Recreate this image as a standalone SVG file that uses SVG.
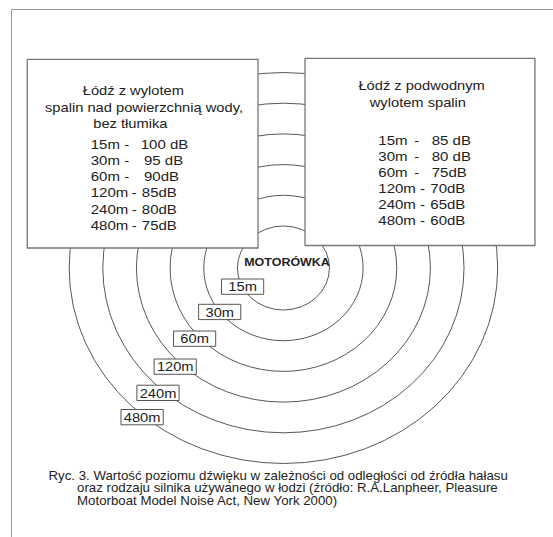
<svg xmlns="http://www.w3.org/2000/svg" width="553" height="537" viewBox="0 0 553 537">
<style>
  text { font-family: "Liberation Sans", Arial, sans-serif; fill: #222; }
  .frame { stroke: #999; stroke-width: 1; fill: none; }
  .ring { fill: none; stroke: #444; stroke-width: 0.9; }
  .box { fill: #fff; stroke: #777; stroke-width: 1.3; }
  .lbl { fill: #fff; stroke: #555; stroke-width: 1; }
  .hd { font-size: 13.4px; }
  .row { font-size: 13.7px; }
  .lt { font-size: 13.4px; text-anchor: middle; }
  .mid { text-anchor: middle; }
  .cap { font-size: 12.1px; }
  .mot { font-size: 11.4px; font-weight: bold; text-anchor: middle; }
  * { vector-effect: non-scaling-stroke; }
</style>
<rect width="553" height="537" fill="#fff"/>
<g transform="scale(1.096 1)">
  <g id="frame">
    <path class="frame" d="M10.5 537 V9.5 H505"/>
  </g>
  <g id="rings">
    <circle class="ring" cx="258.6" cy="268" r="42"/>
    <circle class="ring" cx="258.6" cy="268" r="72.7"/>
    <circle class="ring" cx="258.6" cy="268" r="103.4"/>
    <circle class="ring" cx="258.6" cy="268" r="134.1"/>
    <circle class="ring" cx="258.6" cy="268" r="164.8"/>
    <circle class="ring" cx="258.6" cy="268" r="195.5"/>
  </g>
  <g id="left-box">
    <rect class="box" x="24.9" y="59.3" width="210.5" height="188.7"/>
    <text class="hd" x="75.5" y="95.5">Łódź z wylotem</text>
    <text class="hd" x="41.1" y="111.7">spalin nad powierzchnią wody,</text>
    <text class="hd" x="85.1" y="127.9">bez tłumika</text>
    <text class="row" y="148.8"><tspan x="82.8">15m</tspan><tspan x="115.6" class="mid">-</tspan><tspan x="128.4">100 dB</tspan></text>
    <text class="row" y="165"><tspan x="82.8">30m</tspan><tspan x="115.6" class="mid">-</tspan><tspan x="131.4">95 dB</tspan></text>
    <text class="row" y="181.2"><tspan x="82.8">60m</tspan><tspan x="115.6" class="mid">-</tspan><tspan x="131.4">90dB</tspan></text>
    <text class="row" y="197.4"><tspan x="82.8">120m</tspan><tspan x="122.6" class="mid">-</tspan><tspan x="129.4">85dB</tspan></text>
    <text class="row" y="213.6"><tspan x="82.8">240m</tspan><tspan x="122.6" class="mid">-</tspan><tspan x="129.4">80dB</tspan></text>
    <text class="row" y="229.8"><tspan x="82.8">480m</tspan><tspan x="122.6" class="mid">-</tspan><tspan x="129.4">75dB</tspan></text>
  </g>
  <g id="right-box">
    <rect class="box" x="278.3" y="58.3" width="209.8" height="187.2"/>
    <text class="hd mid" x="384.7" y="90.5">Łódź z podwodnym</text>
    <text class="hd mid" x="381.3" y="107">wylotem spalin</text>
    <text class="row" y="145.2"><tspan x="345.2">15m</tspan><tspan x="380.2" class="mid">-</tspan><tspan x="393.9">85 dB</tspan></text>
    <text class="row" y="161.1"><tspan x="345.2">30m</tspan><tspan x="380.2" class="mid">-</tspan><tspan x="393.9">80 dB</tspan></text>
    <text class="row" y="177"><tspan x="345.2">60m</tspan><tspan x="380.2" class="mid">-</tspan><tspan x="393.9">75dB</tspan></text>
    <text class="row" y="192.9"><tspan x="345.2">120m</tspan><tspan x="385.4" class="mid">-</tspan><tspan x="392.6">70dB</tspan></text>
    <text class="row" y="208.8"><tspan x="345.2">240m</tspan><tspan x="385.4" class="mid">-</tspan><tspan x="392.6">65dB</tspan></text>
    <text class="row" y="224.7"><tspan x="345.2">480m</tspan><tspan x="385.4" class="mid">-</tspan><tspan x="392.6">60dB</tspan></text>
  </g>
  <g id="motorowka">
    <text class="mot" x="261.9" y="266">MOTORÓWKA</text>
  </g>
  <g id="label-15m"><rect class="lbl" x="202.1" y="279" width="38.5" height="15.3"/><text class="lt" x="221.4" y="291.5">15m</text></g>
  <g id="label-30m"><rect class="lbl" x="181.2" y="304.3" width="38.5" height="15.3"/><text class="lt" x="200.5" y="316.8">30m</text></g>
  <g id="label-60m"><rect class="lbl" x="158.3" y="331" width="38.5" height="15.3"/><text class="lt" x="177.6" y="343.5">60m</text></g>
  <g id="label-120m"><rect class="lbl" x="140.6" y="359" width="38.5" height="15.3"/><text class="lt" x="159.9" y="371.5">120m</text></g>
  <g id="label-240m"><rect class="lbl" x="124.9" y="385.2" width="38.5" height="15.3"/><text class="lt" x="144.2" y="397.7">240m</text></g>
  <g id="label-480m"><rect class="lbl" x="110.4" y="409.5" width="38.5" height="15.3"/><text class="lt" x="129.7" y="422">480m</text></g>
  <g id="caption">
    <text class="cap" x="44.3" y="480">Ryc. 3. Wartość poziomu dźwięku w zależności od odległości od źródła hałasu</text>
    <text class="cap" x="70.3" y="492.4">oraz rodzaju silnika używanego w łodzi (źródło: R.A.Lanpheer, Pleasure</text>
    <text class="cap" x="70.3" y="504.8">Motorboat Model Noise Act, New York 2000)</text>
  </g>
</g>
</svg>
